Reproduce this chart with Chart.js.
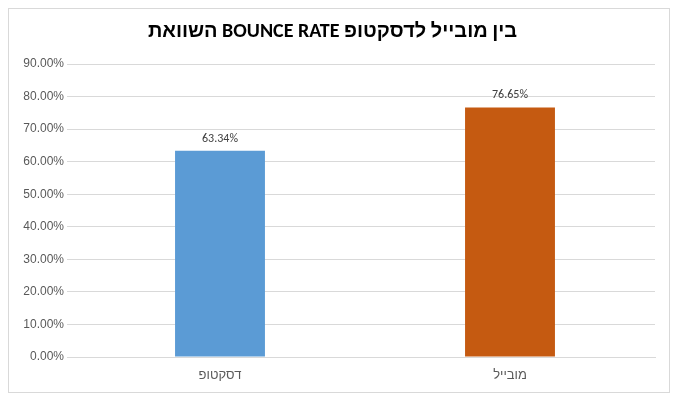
<!DOCTYPE html>
<html><head><meta charset="utf-8">
<script src="https://cdn.jsdelivr.net/npm/chart.js@4"></script>
<style>html,body{margin:0;padding:0;background:#fff}#w{width:678px;height:402px}</style>
</head><body><div id="w"><canvas id="c"></canvas></div>
<script>
const categories = ["דסקטופ", "מובייל"];
const values = [0.6334, 0.7665];
const colors = ["#5B9BD5", "#C55A11"];
const titleText = "השוואת BOUNCE RATE בין מובייל לדסקטופ";

const frame = {
  id: 'frame',
  beforeDraw(c) {
    const x = c.ctx; x.save(); x.fillStyle = '#fff'; x.fillRect(0,0,c.width,c.height);
    x.strokeStyle = '#D9D9D9'; x.lineWidth = 1; x.strokeRect(8.5, 8.5, 661, 384); x.restore();
  },
  afterDatasetsDraw(c) {
    const x = c.ctx; x.save(); x.font = '12px Calibri, Carlito, "Liberation Sans", sans-serif';
    x.fillStyle = '#404040'; x.textAlign = 'center'; x.textBaseline = 'bottom';
    c.getDatasetMeta(0).data.forEach((b, i) => {
      x.fillText((values[i]*100).toFixed(2) + '%', b.x, b.y - 6);
    });
    x.restore();
  }
};

new Chart(document.getElementById('c'), {
  type: 'bar',
  data: { labels: categories, datasets: [{ data: values, backgroundColor: colors, barPercentage: 0.31, categoryPercentage: 1 }] },
  options: {
    responsive: true, maintainAspectRatio: false, animation: false,
    layout: { padding: { left: 10, right: 23, top: 0, bottom: 10 } },
    plugins: {
      legend: { display: false }, tooltip: { enabled: false },
      title: { display: true, text: titleText, color: '#000', font: { size: 20, family: 'Calibri, Carlito, "Liberation Sans", sans-serif' }, padding: { top: 20, bottom: 20 } }
    },
    scales: {
      y: { min: 0, max: 0.9, ticks: { stepSize: 0.1, color: '#595959', font: { size: 12 }, callback: v => (v*100).toFixed(2) + '%' },
           grid: { color: '#D9D9D9' }, border: { display: false },
           afterFit(s) { s.width = 65; } },
      x: { ticks: { color: '#595959', font: { size: 13 } }, grid: { display: false }, border: { color: '#D9D9D9' },
           afterFit(s) { s.height = 35; } }
    }
  },
  plugins: [frame]
});
</script></body></html>
